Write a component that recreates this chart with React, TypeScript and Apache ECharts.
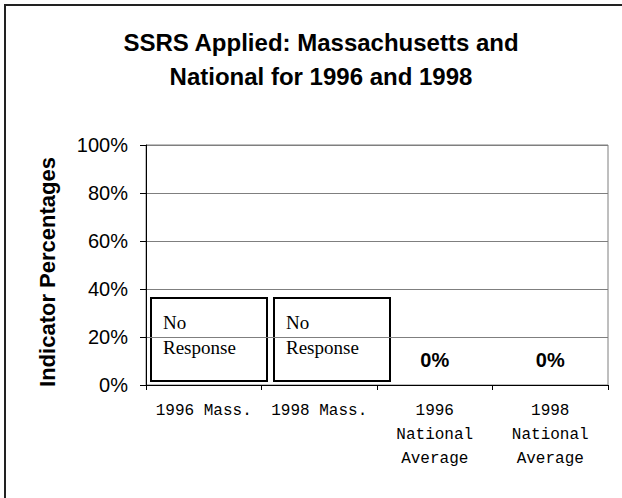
import React, { useEffect, useRef } from "react";
import * as echarts from "echarts";

const titleLines = ["SSRS Applied: Massachusetts and", "National for 1996 and 1998"];
const categories = ["1996 Mass.", "1998 Mass.", "1996\nNational\nAverage", "1998\nNational\nAverage"];
// Indicator percentages; "-" = no response
const values: (number | string)[] = ["-", "-", 0, 0];
const yTicks = { min: 0, max: 100, interval: 20 };
const yAxisName = "Indicator Percentages";
const noResponseText = "No\nResponse";

export default function App() {
  const ref = useRef<HTMLDivElement>(null);
  useEffect(() => {
    if (!ref.current) return;
    const chart = echarts.init(ref.current, undefined, { renderer: "svg" });
    const boxes = [151, 274].map((x) => ({
      type: "group",
      x,
      y: 298,
      children: [
        {
          type: "rect",
          shape: { x: 0, y: 0, width: 116, height: 83 },
          style: { fill: "#fff", stroke: "#000", lineWidth: 2 },
        },
        {
          type: "text",
          x: 12,
          y: 12,
          style: {
            text: noResponseText,
            font: '19px "Liberation Serif", "Times New Roman", serif',
            fill: "#000",
            lineHeight: 25,
          },
        },
      ],
    }));
    chart.setOption({
      animation: false,
      backgroundColor: "#fff",
      title: {
        text: titleLines.join("\n"),
        left: 316,
        textAlign: "center",
        top: 20,
        textStyle: {
          fontFamily: '"Liberation Sans", Arial, sans-serif',
          fontSize: 24,
          fontWeight: "bold",
          lineHeight: 34,
          color: "#000",
        },
      },
      grid: { left: 146, right: 14, top: 145, bottom: 113, show: true, borderColor: "#7f7f7f", borderWidth: 1 },
      xAxis: {
        type: "category",
        data: categories,
        axisLine: { lineStyle: { color: "#000", width: 1 } },
        axisTick: { show: true, length: 5, lineStyle: { color: "#000" } },
        axisLabel: {
          margin: 14,
          fontFamily: '"Liberation Mono", "Courier New", monospace',
          fontSize: 16,
          lineHeight: 24,
          color: "#000",
          interval: 0,
        },
      },
      yAxis: {
        type: "value",
        min: yTicks.min,
        max: yTicks.max,
        interval: yTicks.interval,
        axisLine: { show: true, lineStyle: { color: "#000", width: 1 } },
        axisTick: { show: true, length: 6, lineStyle: { color: "#000" } },
        splitLine: { lineStyle: { color: "#7f7f7f", width: 1 } },
        axisLabel: {
          formatter: "{value}%",
          margin: 18,
          fontFamily: '"Liberation Sans", Arial, sans-serif',
          fontSize: 20,
          color: "#000",
        },
      },
      series: [
        {
          type: "bar",
          data: values,
          barWidth: "60%",
          itemStyle: { color: "#9999ff" },
          label: {
            show: true,
            position: "top",
            distance: 15,
            formatter: (p: any) => `${p.value}%`,
            fontFamily: '"Liberation Sans", Arial, sans-serif',
            fontSize: 20,
            fontWeight: "bold",
            color: "#000",
          },
        },
      ],
      graphic: [
        {
          type: "rect",
          silent: true,
          shape: { x: 5, y: 5, width: 700, height: 600 },
          style: { fill: "none", stroke: "#222", lineWidth: 2 },
          z: 100,
        },
        {
          type: "text",
          x: 47,
          y: 272,
          rotation: Math.PI / 2,
          style: {
            text: yAxisName,
            font: 'bold 22px "Liberation Sans", Arial, sans-serif',
            fill: "#000",
            align: "center",
            verticalAlign: "middle",
          },
        },
        ...boxes,
      ],
    });
    return () => chart.dispose();
  }, []);
  return (
    <div
      ref={ref}
      style={{ position: "fixed", left: 0, top: 0, width: 622, height: 498, background: "#fff" }}
    />
  );
}
